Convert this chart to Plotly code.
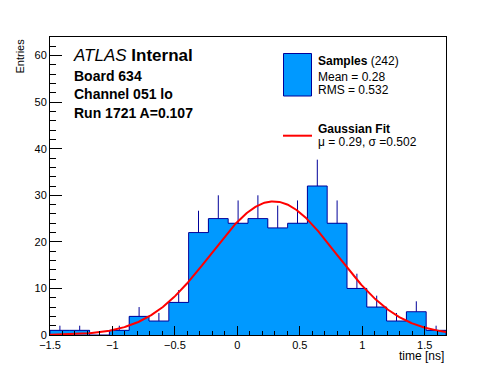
import numpy as np
import plotly.graph_objects as go

# ---- data ----
x_min, x_max, n_bins = -1.5, 1.67, 20
counts = [1, 1, 0, 1, 4, 3, 7, 22, 25, 24, 25, 23, 24, 32, 24, 10, 6, 3, 5, 1]
fit_mu, fit_sigma, fit_amp = 0.29, 0.502, 28.7
n_entries = 242
mean_val, rms_val = 0.28, 0.532
info_lines = ["Board 634", "Channel 051 lo", "Run 1721 A=0.107"]

FILL = "#0099ff"
EDGE = "#000099"
FONT = "Liberation Sans, Arial, Helvetica, sans-serif"

# page has an 8px body margin; the figure is sized so that it fills the 496x372 window
BODY = 8
W, H = 488, 364
L, R, T, B = 42, 50, 29, 37
# plot area in page pixels
PX0, PX1 = BODY + L, BODY + W - R
PY0, PY1 = BODY + T, BODY + H - B


def px(xp):
    return (xp - PX0) / (PX1 - PX0)


def py(yp):
    return (PY1 - yp) / (PY1 - PY0)


edges = np.linspace(x_min, x_max, n_bins + 1)
centers = (edges[:-1] + edges[1:]) / 2
bw = edges[1] - edges[0]
cnt = np.array(counts, dtype=float)

fig = go.Figure()
fig.add_trace(go.Bar(x=centers, y=cnt, width=bw, marker=dict(color=FILL, line=dict(width=0)),
                     showlegend=False, hoverinfo="skip"))

step_x = [edges[0]] + list(edges) + [edges[-1]]
step_y = [0.0] + list(cnt) + [cnt[-1], 0.0]
step_y = step_y[:len(step_x)]
fig.add_trace(go.Scatter(x=step_x, y=step_y, mode="lines", line=dict(color=EDGE, width=1, shape="hv"),
                         showlegend=False, hoverinfo="skip"))

fig.add_trace(go.Scatter(x=centers, y=cnt, mode="markers", marker=dict(size=1, color="rgba(0,0,0,0)"),
                         error_y=dict(type="data", symmetric=False, array=np.sqrt(cnt),
                                      arrayminus=np.zeros_like(cnt), width=0, color=EDGE, thickness=1),
                         showlegend=False, hoverinfo="skip"))

xf = np.linspace(x_min, x_max, 400)
yf = fit_amp * np.exp(-0.5 * ((xf - fit_mu) / fit_sigma) ** 2)
fig.add_trace(go.Scatter(x=xf, y=yf, mode="lines", line=dict(color="#ff0000", width=2),
                         showlegend=False, hoverinfo="skip"))

ann = []
ann.append(dict(x=px(71), y=py(55), xref="paper", yref="paper", xanchor="left", yanchor="middle",
                text="<i>ATLAS</i> <b>Internal</b>", showarrow=False, font=dict(size=17, color="black", family=FONT)))
for i, t in enumerate(info_lines):
    ann.append(dict(x=px(72), y=py(76 + 18.4 * i), xref="paper", yref="paper", xanchor="left", yanchor="middle",
                    text="<b>%s</b>" % t, showarrow=False, font=dict(size=14, color="black", family=FONT)))

leg_font = dict(size=12, color="black", family=FONT)
ann.append(dict(x=px(316), y=py(61), xref="paper", yref="paper", xanchor="left", yanchor="middle",
                text="<b>Samples</b> (%d)" % n_entries, showarrow=False, font=leg_font))
ann.append(dict(x=px(316), y=py(76.5), xref="paper", yref="paper", xanchor="left", yanchor="middle",
                text="Mean = %.2f" % mean_val, showarrow=False, font=leg_font))
ann.append(dict(x=px(316), y=py(90), xref="paper", yref="paper", xanchor="left", yanchor="middle",
                text="RMS = %.3f" % rms_val, showarrow=False, font=leg_font))
ann.append(dict(x=px(316), y=py(129.3), xref="paper", yref="paper", xanchor="left", yanchor="middle",
                text="<b>Gaussian Fit</b>", showarrow=False, font=leg_font))
ann.append(dict(x=px(316), y=py(142), xref="paper", yref="paper", xanchor="left", yanchor="middle",
                text="\u03bc = %.2f, \u03c3 =%.3f" % (fit_mu, fit_sigma), showarrow=False, font=leg_font))

ann.append(dict(x=1, y=py(356), xref="paper", yref="paper", xanchor="right", yanchor="middle",
                text="time [ns]", showarrow=False, font=dict(size=12, color="black", family=FONT)))
ann.append(dict(x=px(19), y=1, xref="paper", yref="paper", xanchor="center", yanchor="top", textangle=-90,
                text="Entries", showarrow=False, font=dict(size=11, color="black", family=FONT)))

shapes = [
    dict(type="rect", xref="paper", yref="paper", x0=px(283.5), x1=px(311.5), y0=py(96), y1=py(53.5),
         fillcolor=FILL, line=dict(color=EDGE, width=1)),
    dict(type="line", xref="paper", yref="paper", x0=px(283), x1=px(312), y0=py(135.7), y1=py(135.7),
         line=dict(color="#ff0000", width=2)),
]

axis_common = dict(showgrid=False, zeroline=False, showline=True, mirror=True, linecolor="black",
                   linewidth=1, ticks="inside", tickcolor="black", tickwidth=1,
                   tickfont=dict(size=11, color="black", family=FONT))
fig.update_layout(
    width=W, height=H, margin=dict(l=L, r=R, t=T, b=B, pad=0, autoexpand=False),
    paper_bgcolor="white", plot_bgcolor="white", bargap=0,
    xaxis=dict(range=[x_min, x_max], dtick=0.5, tick0=0, ticklen=9, automargin=False,
               minor=dict(ticks="inside", ticklen=4.5, dtick=0.1, tick0=0, tickcolor="black"), **axis_common),
    yaxis=dict(range=[0, 64], dtick=10, tick0=0, ticklen=12, automargin=False,
               minor=dict(ticks="inside", ticklen=6, dtick=2, tick0=0, tickcolor="black"), **axis_common),
    annotations=ann, shapes=shapes, showlegend=False,
)
fig.write_html("out.html")
